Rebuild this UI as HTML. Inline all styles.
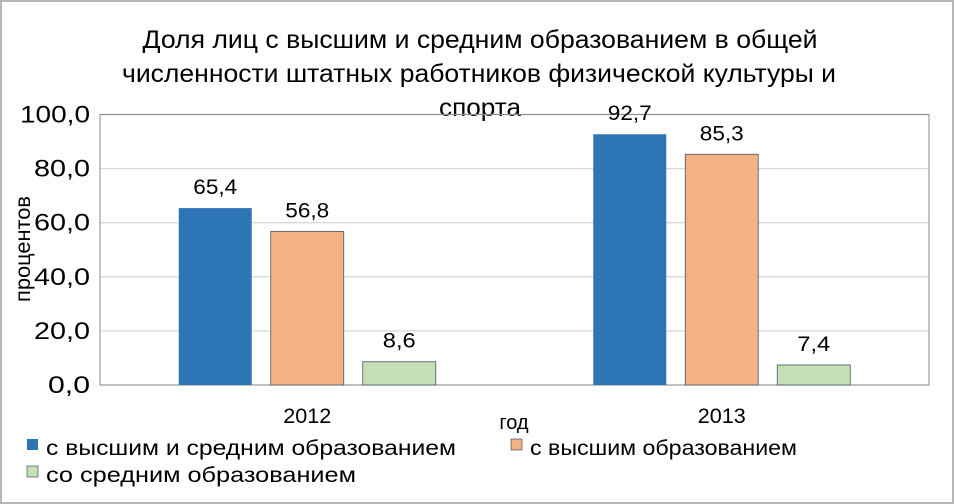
<!DOCTYPE html>
<html><head><meta charset="utf-8"><style>
body{margin:0;background:#fff}
svg{display:block;font-family:"Liberation Sans","DejaVu Sans",sans-serif}
</style></head><body>
<svg id="c" width="954" height="504" viewBox="0 0 954 504">
<rect x="1" y="1" width="952" height="502" fill="#fff" stroke="#b8b6b8" stroke-width="2"/>
<g font-size="25" text-anchor="middle" fill="#000">
<text x="480" y="48" textLength="675" lengthAdjust="spacingAndGlyphs">Доля лиц с высшим и средним образованием в общей</text>
<text x="479" y="82" textLength="714" lengthAdjust="spacingAndGlyphs">численности штатных работников физической культуры и</text>
<text x="480" y="116" textLength="82" lengthAdjust="spacingAndGlyphs">спорта</text>
</g>
<g id="grid"></g>
<g id="bars"></g>
<g id="labels" font-size="21" text-anchor="middle"></g>
<text transform="translate(30,249) rotate(-90)" font-size="21" text-anchor="middle" textLength="106" lengthAdjust="spacingAndGlyphs">процентов</text>
<text x="514" y="429" font-size="20" text-anchor="middle">год</text>
<g font-size="21">
<g><rect x="27" y="439" width="11" height="11" fill="#2e75b6"/><text x="46" y="455" textLength="410" lengthAdjust="spacingAndGlyphs">с высшим и средним образованием</text></g>
<g><rect x="511" y="439" width="11" height="11" fill="#f4b183" stroke="#44546a" stroke-width="0.7"/><text x="530" y="455" textLength="267" lengthAdjust="spacingAndGlyphs">с высшим образованием</text></g>
<g><rect x="27" y="466" width="11" height="11" fill="#c5e0b4" stroke="#44546a" stroke-width="0.7"/><text x="46" y="482" textLength="310" lengthAdjust="spacingAndGlyphs">со средним образованием</text></g>
</g>
</svg>
<script>
const categories=["2012","2013"];
const seriesBoth=[65.4,92.7];
const seriesHigher=[56.8,85.3];
const seriesSecondary=[8.6,7.4];
const yTicks=[0,20,40,60,80,100];
const NS="http://www.w3.org/2000/svg";
const L=100,R=929,T=114.5,B=385,YMAX=100;
const y=v=>B-(v/YMAX)*(B-T);
const catW=(R-L)/categories.length;
const xc=i=>L+catW*(i+0.5);
const BW=73,GAP=19;
function mk(tag,attrs,parent){const e=document.createElementNS(NS,tag);for(const k in attrs)e.setAttribute(k,attrs[k]);parent.appendChild(e);return e;}
const grid=document.getElementById('grid'),bars=document.getElementById('bars'),labels=document.getElementById('labels');
yTicks.forEach(t=>{
 const l=mk('line',{x1:L,x2:R,y1:y(t),y2:y(t),stroke:'#d9d9d9','stroke-width':1.3},grid);
 
 
 const s=t.toFixed(1).replace('.',',');
 const tx=mk('text',{x:90,y:y(t)+8,'font-size':24,'text-anchor':'end',textLength:s.length*14,lengthAdjust:'spacingAndGlyphs'},grid);
 tx.textContent=s;
 
 
});
const fr=mk('rect',{x:L,y:T,width:R-L,height:B-T,fill:'none',stroke:'#898989','stroke-width':1},grid);


const series=[[seriesBoth,'#2e75b6','none'],[seriesHigher,'#f4b183','#44546a'],[seriesSecondary,'#c5e0b4','#44546a']];
categories.forEach((c,i)=>{
 const start=xc(i)-(3*BW+2*GAP)/2;
 series.forEach((s,j)=>{
  const v=s[0][i],x=start+j*(BW+GAP);
  const r=mk('rect',{x:x,y:y(v),width:BW,height:B-y(v),fill:s[1],stroke:s[2],'stroke-width':0.8},bars);
  
  
  const str=v.toFixed(1).replace('.',',');
  const t=mk('text',{x:x+BW/2,y:y(v)-14,textLength:str.length*11,lengthAdjust:'spacingAndGlyphs'},labels);
  t.textContent=str;
  
  
 });
 const ct=mk('text',{x:xc(i),y:B+38,textLength:48,lengthAdjust:'spacingAndGlyphs'},labels);
 ct.textContent=c;
 
 
});
</script>
</body></html>
